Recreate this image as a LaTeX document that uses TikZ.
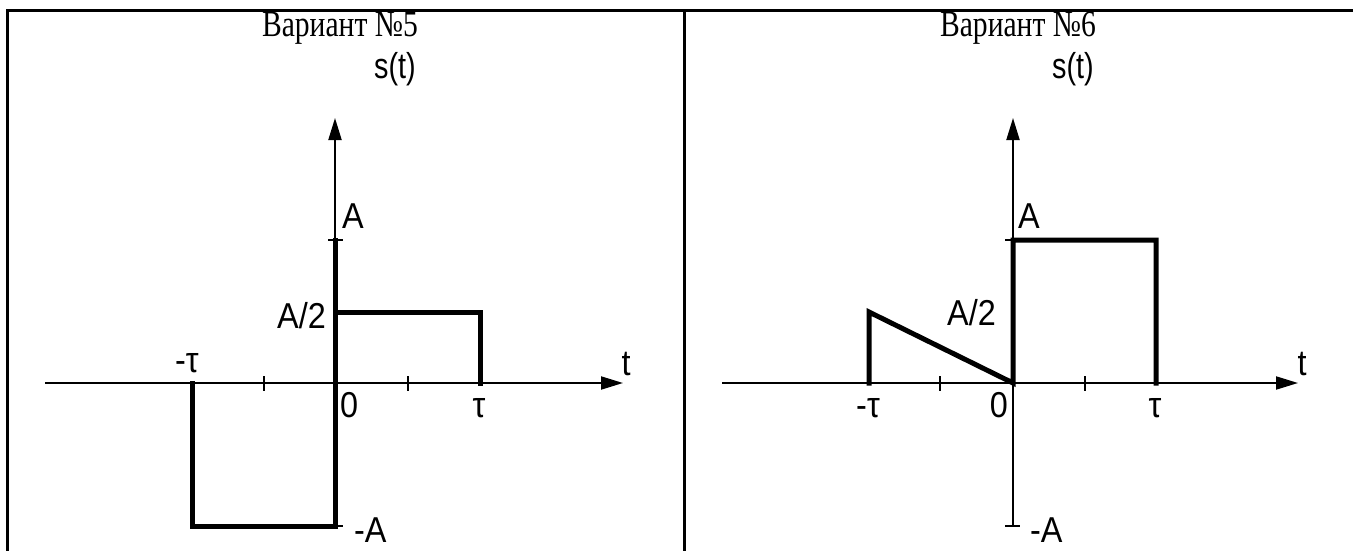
\documentclass[tikz,border=0pt]{standalone}
\usepackage{fontspec}
\setmainfont{Liberation Serif}
\newfontfamily\labfont{Liberation Sans}
\usetikzlibrary{arrows.meta}
\tikzset{
  frame/.style={line width=3pt},
  axis/.style={line width=2pt,-{Triangle[length=22pt,width=13pt]}},
  tickmark/.style={line width=2pt},
  signal/.style={line width=5pt,line cap=rect,line join=miter},
  title/.style={font=\fontsize{37}{39}\selectfont,inner sep=0pt,xscale=0.8},
  lab/.style={font=\labfont\fontsize{36}{38}\selectfont,inner sep=0pt,xscale=0.9},
  slab/.style={font=\labfont\fontsize{36}{38}\selectfont,inner sep=0pt,xscale=0.8}
}
\begin{document}
\begin{tikzpicture}[x=1pt,y=-1pt]
\useasboundingbox (0,0) rectangle (1353,551);
% table frame
\draw[frame] (7,11) -- (1353,11);
\draw[frame] (7,9.5) -- (7,551);
\draw[frame] (684,9.5) -- (684,551);
% titles
\node[title,anchor=base] (t5) at (340,37) {Вариант №5};
\node[title,anchor=base] (t6) at (1018,37) {Вариант №6};

% ---------- left panel (variant 5) ----------
\coordinate (o1) at (335,383);
\draw[axis] (45,383) -- (623,383);
\draw[axis] (335,526) -- (335,118);
\draw[tickmark] (264,376) -- (264,391);
\draw[tickmark] (408,376) -- (408,391);
\draw[tickmark] (328,240) -- (343,240);
\draw[tickmark] (335,526) -- (343,526);
\draw[signal] (192,383) -- (192,526) -- (335,526) -- (335,240);
\draw[signal] (335,312) -- (480,312) -- (480,383);
\node[slab,anchor=base west] (s5) at (374,78) {s(t)};
\node[lab,anchor=base west] (a5) at (342,228) {A};
\node[lab,anchor=base east] (ah5) at (326,328) {A/2};
\node[lab,anchor=base] (mt5) at (187,372) {-τ};
\node[lab,anchor=base west] (z5) at (340,417) {0};
\node[lab,anchor=base] (tau5) at (479,417) {τ};
\node[lab,anchor=base] (tt5) at (626,375) {t};
\node[lab,anchor=base west] (ma5) at (354,542) {-A};

% ---------- right panel (variant 6) ----------
\coordinate (o2) at (1013,383);
\draw[axis] (722,383) -- (1298,383);
\draw[axis] (1013,526) -- (1013,118);
\draw[tickmark] (940,376) -- (940,391);
\draw[tickmark] (1085,376) -- (1085,391);
\draw[tickmark] (1005,240) -- (1020,240);
\draw[tickmark] (1005,526) -- (1020,526);
\draw[signal] (869,383) -- (869,312) -- (1013,383) -- (1013,240) -- (1156,240) -- (1156,383);
\node[slab,anchor=base west] (s6) at (1052,78) {s(t)};
\node[lab,anchor=base west] (a6) at (1018,228) {A};
\node[lab,anchor=base east] (ah6) at (996,325) {A/2};
\node[lab,anchor=base] (mt6) at (868,417) {-τ};
\node[lab,anchor=base east] (z6) at (1008,417) {0};
\node[lab,anchor=base] (tau6) at (1155,417) {τ};
\node[lab,anchor=base] (tt6) at (1302,375) {t};
\node[lab,anchor=base west] (ma6) at (1030,542) {-A};
\end{tikzpicture}
\end{document}
